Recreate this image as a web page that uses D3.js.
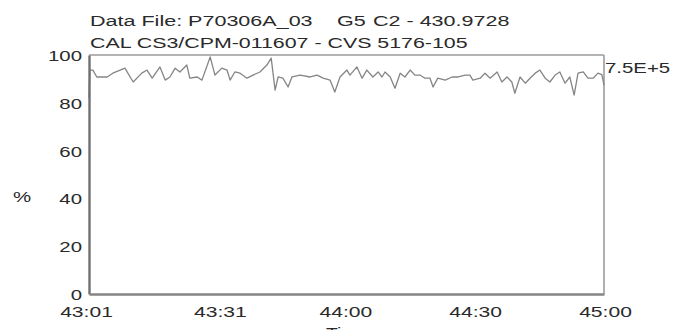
<!DOCTYPE html>
<html><head><meta charset="utf-8">
<script src="https://cdn.jsdelivr.net/npm/d3@7"></script>
<style>
html,body{margin:0;padding:0;background:#fff;}
text{font-family:"Liberation Sans",Arial,Helvetica,sans-serif;fill:#2a2a2a;white-space:pre;}
</style></head><body>
<svg id="c" width="686" height="330"></svg>
<script>
// ---- data ----
const titleLine1Parts = ["Data File: P70306A_03", "G5", "C2 - 430.9728"];
const titleLine2 = "CAL CS3/CPM-011607 - CVS 5176-105";
const yTicks = [0, 20, 40, 60, 80, 100];
const xTickValues = [2581, 2611, 2640, 2670, 2700];   // seconds of hour
const xTickLabels = ["43:01", "43:31", "44:00", "44:30", "45:00"];
const yLabel = "%";
const xLabel = "Time";
const rightLabel = "7.5E+5";
// time offsets (s) from 43:01
const tOffsets = [0.0,0.2,0.9,1.8,4.2,5.5,7.2,8.3,10.2,12.2,13.4,14.6,16.4,17.6,18.7,19.9,21.0,22.6,23.3,25.0,26.1,28.0,29.1,30.7,31.9,32.6,33.7,34.9,36.5,37.9,39.5,41.1,42.1,43.0,43.7,44.8,46.0,46.9,48.8,51.1,52.7,54.1,55.7,56.8,58.0,59.6,60.3,61.9,63.1,64.2,65.6,66.8,67.7,68.4,69.6,70.7,71.9,73.0,74.2,75.3,76.5,77.6,78.8,79.5,80.6,82.3,83.9,85.3,86.9,88.0,88.7,90.4,91.5,92.7,94.3,95.4,96.6,97.7,98.4,99.6,100.8,101.9,103.1,104.2,105.4,106.5,107.7,108.8,110.0,111.1,112.1,113.0,114.2,115.3,116.5,117.6,118.5,119.0];
const percent = [82,93.7,93.7,90.8,90.8,92.4,93.7,94.5,88.7,92.4,93.7,90.3,95.0,89.5,90.8,94.5,92.9,95.8,90.3,90.8,89.5,99.2,91.6,94.5,93.7,89.5,92.9,92.4,90.3,91.6,92.9,95.8,98.7,85.3,90.8,90.3,86.6,90.8,91.6,90.8,91.6,90.3,89.5,84.5,90.8,93.7,91.6,95.0,90.3,93.7,90.8,92.9,90.8,92.9,90.8,86.1,92.4,90.8,93.7,91.6,91.6,90.3,90.3,86.6,90.3,89.5,90.8,90.8,91.6,91.6,89.5,90.3,92.4,90.3,92.9,88.7,90.8,88.7,84.0,90.8,88.2,90.3,92.4,93.7,90.3,88.7,91.6,92.9,88.2,90.8,83.2,92.4,92.9,90.3,90.3,92.4,91.8,87.4];

const startSec = 2581;
const series = tOffsets.map((t, i) => ({t: startSec + t, v: percent[i]}));

// ---- layout ----
const svg = d3.select("#c");
const L = 89, R = 604, T = 55, B = 294;
const SX = 1.36;
const x = d3.scaleLinear().domain([2581, 2700]).range([L, R]);
const y = d3.scaleLinear().domain([0, 100]).range([B, T]);

function stext(g, px, py, str, size, anchor, sx) {
  return g.append("text")
    .attr("transform", `translate(${px},${py}) scale(${sx || SX},1)`)
    .attr("text-anchor", anchor)
    .style("font-size", size + "px")
    .text(str);
}

// titles
const t1x = [90, 337, 373];
titleLine1Parts.forEach((s, i) => stext(svg, t1x[i], 26, s, 15.5, "start", 1.39));
stext(svg, 90, 47.5, titleLine2, 15.5, "start", 1.38);

// frame: top and right (light)
svg.append("line").attr("x1", L).attr("x2", R).attr("y1", T).attr("y2", T)
  .attr("stroke", "#9a9a9a").attr("stroke-width", 1.6);
svg.append("line").attr("x1", R).attr("x2", R).attr("y1", T).attr("y2", B)
  .attr("stroke", "#a8a8a8").attr("stroke-width", 1.8);

// data line
const line = d3.line().x(d => x(d.t)).y(d => y(d.v));
svg.append("path").datum(series).attr("d", line)
  .attr("fill", "none").attr("stroke", "#858585").attr("stroke-width", 1.3)
  .attr("stroke-linejoin", "round");

// left axis and bottom axis (darker)
const yAxis = d3.axisLeft(y).tickValues(yTicks).tickSize(0).tickPadding(7);
const gy = svg.append("g").attr("transform", `translate(${L},0)`).call(yAxis);
gy.select(".domain").attr("stroke", "#707070").attr("stroke-width", 2.4);
gy.selectAll(".tick text").each(function(d) {
  const t = d3.select(this);
  t.attr("x", null).attr("dy", null)
   .attr("transform", `translate(-7,5.5) scale(${SX},1)`)
   .attr("text-anchor", "end").style("font-size", "15px")
   .attr("fill", "#2a2a2a");
});
gy.attr("font-family", null).attr("font-size", null);

const xAxis = d3.axisBottom(x).tickValues(xTickValues).tickFormat((d, i) => xTickLabels[i]).tickSize(0);
const gx = svg.append("g").attr("transform", `translate(0,${B})`).call(xAxis);
gx.select(".domain").attr("stroke", "#858585").attr("stroke-width", 2.6);
gx.selectAll(".tick text").each(function(d, i) {
  const t = d3.select(this);
  t.attr("y", null).attr("dy", null)
   .attr("transform", `translate(${i === 0 ? -3 : 1},22.5) scale(${SX},1)`)
   .attr("text-anchor", "middle").style("font-size", "15.5px").attr("fill", "#2a2a2a");
});
gx.attr("font-family", null).attr("font-size", null);

// axis labels
stext(svg, 22, 202, yLabel, 15, "middle");
stext(svg, 347, 338, xLabel, 14, "middle", 1.38);
stext(svg, 605, 73, rightLabel, 15, "start");
</script>
</body></html>
